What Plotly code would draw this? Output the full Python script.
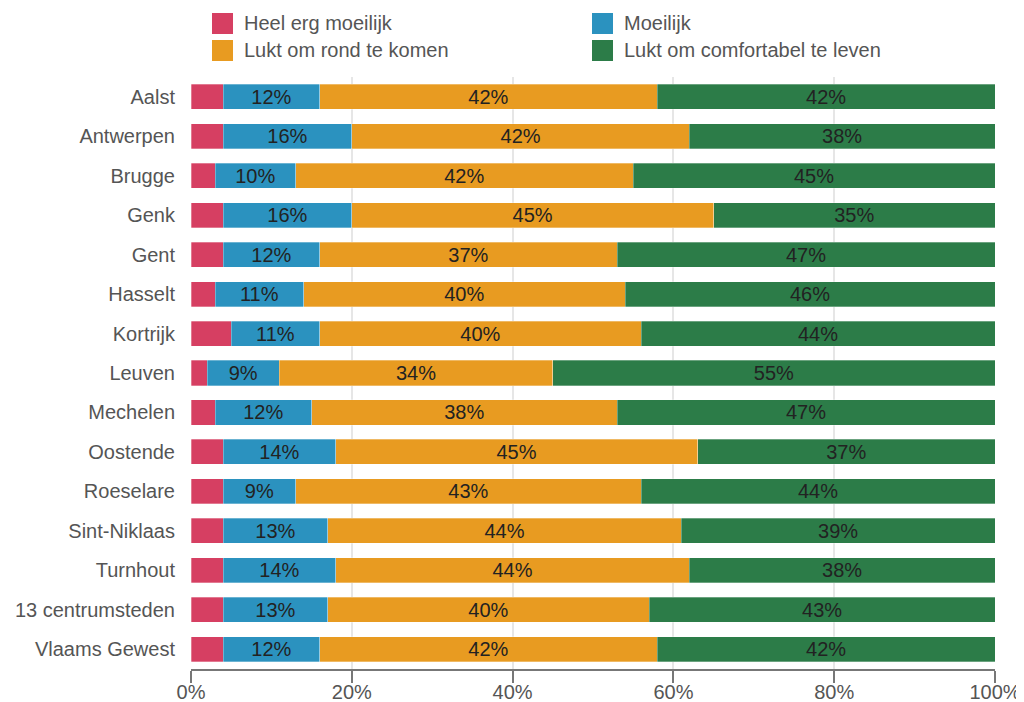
import plotly.graph_objects as go

cities = ["Aalst", "Antwerpen", "Brugge", "Genk", "Gent", "Hasselt", "Kortrijk", "Leuven",
          "Mechelen", "Oostende", "Roeselare", "Sint-Niklaas", "Turnhout", "13 centrumsteden", "Vlaams Gewest"]
heel_erg_moeilijk = [4, 4, 3, 4, 4, 3, 5, 2, 3, 4, 4, 4, 4, 4, 4]
moeilijk = [12, 16, 10, 16, 12, 11, 11, 9, 12, 14, 9, 13, 14, 13, 12]
rond_komen = [42, 42, 42, 45, 37, 40, 40, 34, 38, 45, 43, 44, 44, 40, 42]
comfortabel = [42, 38, 45, 35, 47, 46, 44, 55, 47, 37, 44, 39, 38, 43, 42]
tick_vals = [0, 20, 40, 60, 80, 100]
tick_text = ["0%", "20%", "40%", "60%", "80%", "100%"]

series = [
    ("Heel erg moeilijk", heel_erg_moeilijk, "#d63f62", False),
    ("Moeilijk", moeilijk, "#2b92bf", True),
    ("Lukt om rond te komen", rond_komen, "#e89b21", True),
    ("Lukt om comfortabel te leven", comfortabel, "#2c7c48", True),
]

# page body has an 8px margin, so the figure is drawn 8px in from the top-left
OFF = 8
W, H = 1024 - OFF, 702 - OFF
ML, MR, MT, MB = 191 - OFF, 29, 77 - OFF, 33
PW, PH = W - ML - MR, H - MT - MB

def px_x(px):
    return (px - OFF - ML) / PW

def px_y(py):
    return 1 - (py - OFF - MT) / PH

FONT = "Liberation Sans, Arial, sans-serif"

fig = go.Figure()
for name, vals, color, show in series:
    fig.add_trace(go.Bar(
        y=cities, x=vals, name=name, orientation="h", showlegend=False,
        marker=dict(color=color, line=dict(color="rgba(255,255,255,0.6)", width=0.5)),
        text=[f"{v}%" for v in vals] if show else None,
        textposition="inside" if show else "none",
        insidetextanchor="middle",
        textfont=dict(color="#222222", size=20, family=FONT),
        hovertemplate="%{y}: %{x}%<extra>" + name + "</extra>",
    ))

# manual legend (2 columns), positions in page pixels
legend_pos = [(212, 13), (592, 13), (212, 40), (592, 40)]
shapes, annotations = [], []
for (name, vals, color, show), (lx, ly) in zip(series, legend_pos):
    shapes.append(dict(type="rect", xref="paper", yref="paper",
                       x0=px_x(lx), x1=px_x(lx + 21), y0=px_y(ly), y1=px_y(ly + 21),
                       fillcolor=color, line=dict(width=0)))
    annotations.append(dict(xref="paper", yref="paper", x=px_x(lx + 30), y=px_y(ly + 10.5),
                            xanchor="left", yanchor="middle", showarrow=False, text=name,
                            font=dict(family=FONT, size=20, color="#555555")))

fig.update_layout(
    width=W, height=H,
    barmode="stack", bargap=0.365,
    font=dict(family=FONT, size=20, color="#555555"),
    paper_bgcolor="white", plot_bgcolor="white",
    margin=dict(l=ML, r=MR, t=MT, b=MB, autoexpand=False),
    uniformtext=dict(minsize=20, mode="show"),
    showlegend=False,
    shapes=shapes, annotations=annotations,
    xaxis=dict(range=[0, 100], tickvals=tick_vals, ticktext=tick_text, automargin=False,
               showgrid=True, gridcolor="#e6e6e6", gridwidth=1.5,
               showline=True, linecolor="#777777", linewidth=2,
               ticks="outside", ticklen=12, tickcolor="#777777", tickwidth=2,
               ticklabelstandoff=-8,
               tickfont=dict(size=20, color="#555555"),
               zeroline=False, fixedrange=True),
    yaxis=dict(autorange="reversed", showgrid=False, ticks="", ticklabelstandoff=15,
               automargin=False,
               tickfont=dict(size=20, color="#555555"), fixedrange=True),
)

fig.write_html("out.html")
